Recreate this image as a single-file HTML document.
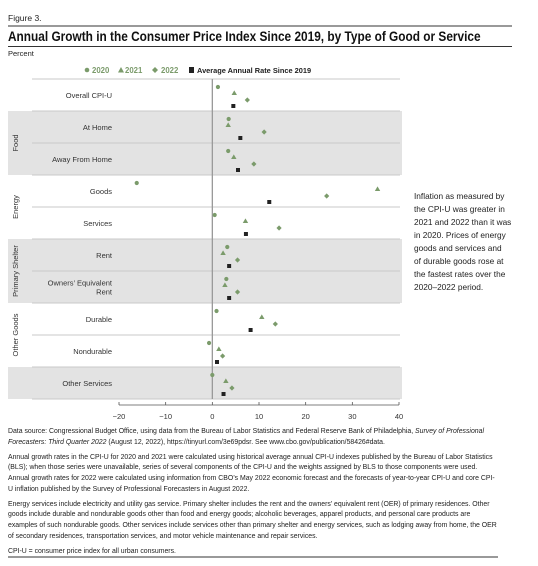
<!DOCTYPE html>
<html><head><meta charset="utf-8"><style>
body{margin:0;background:#fff;font-family:"Liberation Sans",sans-serif;}
#wrap{position:relative;width:538px;height:566px;overflow:hidden;}
.t{position:absolute;white-space:nowrap;color:#222;}
.foot{position:absolute;left:8px;width:490px;font-size:6.9px;line-height:10.6px;color:#222;}
.foot p{margin:0 0 4.6px 0;}
</style></head><body>
<div id="wrap">
<div class="t" style="left:8px;top:13px;font-size:8.5px;">Figure 3.</div>
<div style="position:absolute;left:8px;top:25px;width:504px;height:2px;background:#999"></div>
<div class="t" style="left:8px;top:29px;font-size:13.4px;font-weight:bold;color:#111;transform:scaleX(0.885);transform-origin:0 0;">Annual Growth in the Consumer Price Index Since 2019, by Type of Good or Service</div>
<div style="position:absolute;left:8px;top:46px;width:504px;height:1px;background:#333"></div>
<div class="t" style="left:8px;top:49px;font-size:7.5px;">Percent</div>
<svg id="chart" width="538" height="425" style="position:absolute;left:0;top:0" font-family="Liberation Sans, sans-serif"></svg>
<div class="t" style="left:414px;top:190px;font-size:8.3px;line-height:13px;">Inflation as measured by<br>the CPI-U was greater in<br>2021 and 2022 than it was<br>in 2020. Prices of energy<br>goods and services and<br>of durable goods rose at<br>the fastest rates over the<br>2020–2022 period.</div>
<div class="foot" style="top:427px;">
<p>Data source: Congressional Budget Office, using data from the Bureau of Labor Statistics and Federal Reserve Bank of Philadelphia, <i>Survey of Professional Forecasters: Third Quarter 2022</i> (August 12, 2022), https://tinyurl.com/3e69pdsr. See www.cbo.gov/publication/58426#data.</p>
<p>Annual growth rates in the CPI-U for 2020 and 2021 were calculated using historical average annual CPI-U indexes published by the Bureau of Labor Statistics (BLS); when those series were unavailable, series of several components of the CPI-U and the weights assigned by BLS to those components were used. Annual growth rates for 2022 were calculated using information from CBO’s May 2022 economic forecast and the forecasts of year-to-year CPI-U and core CPI-U inflation published by the Survey of Professional Forecasters in August 2022.</p>
<p>Energy services include electricity and utility gas service. Primary shelter includes the rent and the owners’ equivalent rent (OER) of primary residences. Other goods include durable and nondurable goods other than food and energy goods; alcoholic beverages, apparel products, and personal care products are examples of such nondurable goods. Other services include services other than primary shelter and energy services, such as lodging away from home, the OER of secondary residences, transportation services, and motor vehicle maintenance and repair services.</p>
<p>CPI-U = consumer price index for all urban consumers.</p>
</div>
<div style="position:absolute;left:8px;top:556px;width:490px;height:2px;background:#999"></div>
</div>
<script>
const categories=["Overall CPI-U","At Home","Away From Home","Goods","Services","Rent","Owners’ Equivalent|Rent","Durable","Nondurable","Other Services"];
const v2020=[1.2,3.5,3.4,-16.2,0.5,3.2,3.0,0.9,-0.7,0.0];
const v2021=[4.7,3.4,4.6,35.4,7.1,2.3,2.7,10.6,1.4,2.9];
const v2022=[7.5,11.1,8.9,24.5,14.3,5.4,5.4,13.5,2.2,4.2];
const vAvg=[4.5,6.0,5.5,12.2,7.2,3.6,3.6,8.2,1.0,2.4];
const ticks=[-20,-10,0,10,20,30,40];
const groups=[{name:"Food",start:1,end:2,shade:true},{name:"Energy",start:3,end:4,shade:false},{name:"Primary Shelter",start:5,end:6,shade:true},{name:"Other Goods",start:7,end:8,shade:false},{name:"",start:9,end:9,shade:true}];
const svg=document.getElementById('chart');const NS='http://www.w3.org/2000/svg';
const X0=119,X1=399,ROW0=79,RH=32;
const x=v=>X0+(v+20)/60*(X1-X0);
const y=i=>ROW0+i*RH;
const G="#7b9b6b";
function el(t,a,p){const e=document.createElementNS(NS,t);for(const k in a)e.setAttribute(k,a[k]);(p||svg).appendChild(e);return e;}
groups.forEach(g=>{if(g.shade){const r=el('rect',{x:8,y:y(g.start),width:394,height:(g.end-g.start+1)*RH,fill:'#e3e3e3'});

}
if(g.name){const cy=(y(g.start)+y(g.end+1))/2;const t=el('text',{x:0,y:0,transform:`translate(18,${cy}) rotate(-90)`,'text-anchor':'middle','font-size':7.5,fill:'#333'});t.textContent=g.name;

}});
for(let i=0;i<=categories.length;i++){const l=el('line',{x1:32,x2:400,y1:y(i),y2:y(i),stroke:'#c8c8c8','stroke-width':1});

}
const z=el('line',{x1:x(0),x2:x(0),y1:y(0),y2:y(categories.length),stroke:'#999','stroke-width':1.3});


categories.forEach((c,i)=>{const parts=c.split('|');const t=el('text',{x:112,y:y(i)+RH/2+3-(parts.length-1)*4.5,'text-anchor':'end','font-size':7.5,fill:'#333'});
parts.forEach((p,k)=>{const s=el('tspan',{x:112,dy:k?9:0},t);s.textContent=p;});


const yy=y(i);
const c1=el('circle',{cx:x(v2020[i]),cy:yy+8,r:2.1,fill:G});


const tx=x(v2021[i]),ty=yy+14;
const t1=el('polygon',{points:`${tx},${ty-2.6} ${tx-2.7},${ty+2} ${tx+2.7},${ty+2}`,fill:G});


const dx=x(v2022[i]),dy=yy+21;
const d1=el('polygon',{points:`${dx},${dy-2.6} ${dx+2.6},${dy} ${dx},${dy+2.6} ${dx-2.6},${dy}`,fill:G});


const s1=el('rect',{x:x(vAvg[i])-2,y:yy+25,width:4,height:4,fill:'#222'});

});
const ax=el('line',{x1:X0,x2:X1,y1:405,y2:405,stroke:'#555','stroke-width':0.8});


ticks.forEach(tk=>{const l=el('line',{x1:x(tk),x2:x(tk),y1:402,y2:405,stroke:'#555','stroke-width':0.8});


const t=el('text',{x:x(tk),y:419,'text-anchor':'middle','font-size':7.5,fill:'#333'});t.textContent=tk<0?'−'+(-tk):tk;

});
const lg=el('g',{});


el('circle',{cx:87,cy:70,r:2.3,fill:G},lg);
let t=el('text',{x:92,y:73,'font-size':7.8,'font-weight':'bold',fill:G},lg);t.textContent='2020';
el('polygon',{points:'121,67 118,72.5 124,72.5',fill:G},lg);
t=el('text',{x:125,y:73,'font-size':7.8,'font-weight':'bold',fill:G},lg);t.textContent='2021';
el('polygon',{points:'155,67 158,70 155,73 152,70',fill:G},lg);
t=el('text',{x:161,y:73,'font-size':7.8,'font-weight':'bold',fill:G},lg);t.textContent='2022';
el('rect',{x:189,y:67,width:5,height:6,fill:'#222'},lg);
t=el('text',{x:197,y:73,'font-size':7.4,'font-weight':'bold',fill:'#222'},lg);t.textContent='Average Annual Rate Since 2019';
</script>
</body></html>
